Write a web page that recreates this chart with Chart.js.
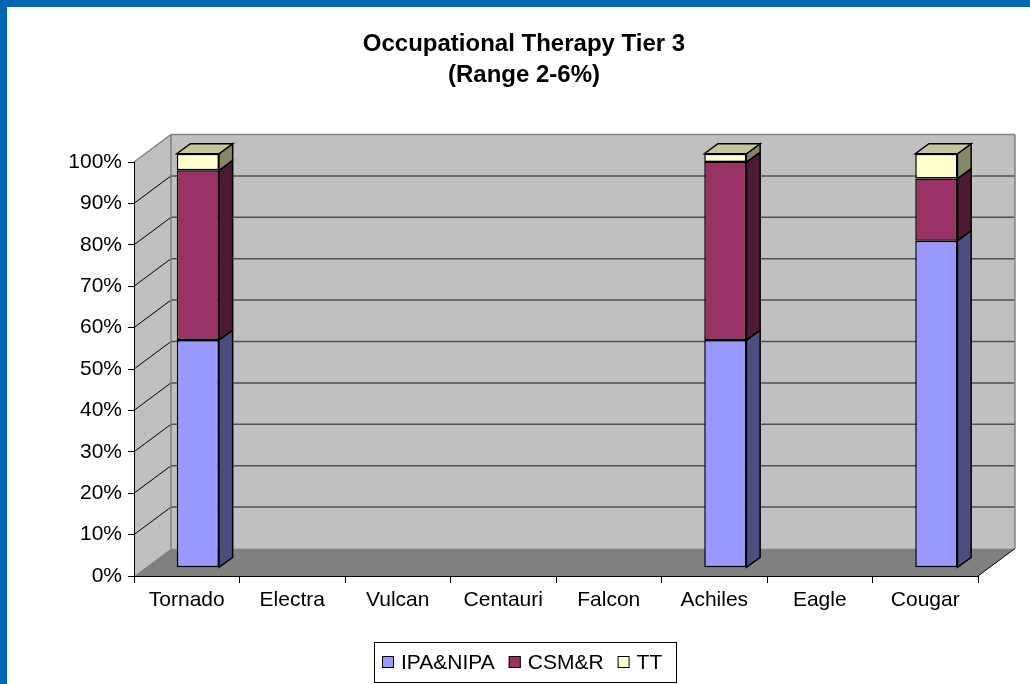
<!DOCTYPE html>
<html>
<head>
<meta charset="utf-8">
<script src="https://cdn.jsdelivr.net/npm/chart.js@4.4.1/dist/chart.umd.min.js"></script>
<style>
html,body{margin:0;padding:0;background:#fff;overflow:hidden}
#wrap{width:1030px;height:684px;position:relative}
</style>
</head>
<body>
<div id="wrap"><canvas id="c" width="1030" height="684"></canvas></div>
<script>
// ---- data ----
const categories = ['Tornado', 'Electra', 'Vulcan', 'Centauri', 'Falcon', 'Achiles', 'Eagle', 'Cougar'];
const ipaValues = [55, null, null, null, null, 55, null, 79];
const csmValues = [41, null, null, null, null, 43, null, 15];
const ttValues  = [4,  null, null, null, null, 2,  null, 6];
const seriesNames = ['IPA&NIPA', 'CSM&R', 'TT'];
const yTickValues = [0, 10, 20, 30, 40, 50, 60, 70, 80, 90, 100];
const titleLines = ['Occupational Therapy Tier 3', '(Range 2-6%)'];

// ---- style ----
const FONT = '"Liberation Sans", Arial, sans-serif';
const DEPTH_X = 37, DEPTH_Y = -27.5;        // back wall offset
const BAR_SHIFT = 0.3;                      // bar front plane position in depth
const BAR_DX = 13.7, BAR_DY = -10;          // bar depth

function poly(ctx, pts, fill, stroke, lw) {
  ctx.beginPath();
  ctx.moveTo(pts[0][0], pts[0][1]);
  for (let k = 1; k < pts.length; k++) ctx.lineTo(pts[k][0], pts[k][1]);
  ctx.closePath();
  if (fill) { ctx.fillStyle = fill; ctx.fill(); }
  if (stroke) { ctx.strokeStyle = stroke; ctx.lineWidth = lw || 1; ctx.stroke(); }
}
function line(ctx, x1, y1, x2, y2, color, lw) {
  ctx.beginPath(); ctx.moveTo(x1, y1); ctx.lineTo(x2, y2);
  ctx.strokeStyle = color; ctx.lineWidth = lw; ctx.stroke();
}

const excel3d = {
  id: 'excel3d',
  beforeDraw(chart) {
    const ctx = chart.ctx;
    const {left: L, right: R, top: T, bottom: B} = chart.chartArea;
    const ys = chart.scales.y;
    ctx.save();
    ctx.fillStyle = '#ffffff';
    ctx.fillRect(0, 0, chart.width, chart.height);
    ctx.fillStyle = '#0066B3';
    ctx.fillRect(0, 0, chart.width, 7);
    ctx.fillRect(0, 0, 7, chart.height);

    // walls
    poly(ctx, [[L, T], [L + DEPTH_X, T + DEPTH_Y], [L + DEPTH_X, B + DEPTH_Y], [L, B]], '#C0C0C0');
    ctx.fillStyle = '#C0C0C0';
    ctx.fillRect(L + DEPTH_X, T + DEPTH_Y, R - L, B - T);
    poly(ctx, [[L, B], [L + DEPTH_X, B + DEPTH_Y], [R + DEPTH_X, B + DEPTH_Y], [R, B]], '#808080');

    // gridlines
    yTickValues.forEach(v => {
      if (v === 0 || v === 100) return;
      const py = ys.getPixelForValue(v);
      line(ctx, L + DEPTH_X, py + DEPTH_Y, R + DEPTH_X, py + DEPTH_Y, '#505050', 1.5);
      line(ctx, L, py, L + DEPTH_X, py + DEPTH_Y, '#000000', 1);
    });
    // wall edges
    line(ctx, L, T, L + DEPTH_X, T + DEPTH_Y, '#808080', 1.5);
    line(ctx, L + DEPTH_X, T + DEPTH_Y, R + DEPTH_X, T + DEPTH_Y, '#808080', 1.5);
    line(ctx, L + DEPTH_X, T + DEPTH_Y, L + DEPTH_X, B + DEPTH_Y, '#808080', 1.5);
    line(ctx, R + DEPTH_X, T + DEPTH_Y, R + DEPTH_X, B + DEPTH_Y, '#808080', 1.5);
    line(ctx, R, B, R + DEPTH_X, B + DEPTH_Y, '#000000', 1);
    ctx.restore();
  },
  beforeDatasetsDraw(chart) {
    chart.ctx.save();
    chart.ctx.translate(DEPTH_X * BAR_SHIFT, DEPTH_Y * BAR_SHIFT);
  },
  afterDatasetsDraw(chart) {
    const ctx = chart.ctx;
    const dsets = chart.data.datasets;
    dsets.forEach((ds, i) => {
      const meta = chart.getDatasetMeta(i);
      meta.data.forEach((el, j) => {
        const v = ds.data[j];
        if (v == null || v === 0) return;
        const p = el.getProps(['x', 'y', 'base', 'width'], true);
        const l = p.x - p.width / 2, r = p.x + p.width / 2;
        const t = Math.min(p.y, p.base), b = Math.max(p.y, p.base);
        poly(ctx, [[r, t], [r + BAR_DX, t + BAR_DY], [r + BAR_DX, b + BAR_DY], [r, b]], ds.sideColor, '#000', 1.5);
        let isTop = true;
        for (let k = i + 1; k < dsets.length; k++) if (dsets[k].data[j]) isTop = false;
        if (isTop) poly(ctx, [[l, t], [l + BAR_DX, t + BAR_DY], [r + BAR_DX, t + BAR_DY], [r, t]], ds.topColor, '#000', 1.5);
      });
    });
    ctx.restore();
  },
  afterDraw(chart) {
    const ctx = chart.ctx;
    ctx.save();
    // title
    ctx.fillStyle = '#000';
    ctx.font = 'bold 24px ' + FONT;
    ctx.textAlign = 'center';
    ctx.textBaseline = 'middle';
    ctx.fillText(titleLines[0], 524, 44);
    ctx.fillText(titleLines[1], 524, 75);

    // legend
    const lx = 374, ly = 642, lw = 302, lh = 40;
    ctx.fillStyle = '#fff';
    ctx.fillRect(lx, ly, lw, lh);
    ctx.strokeStyle = '#000'; ctx.lineWidth = 1;
    ctx.strokeRect(lx + 0.5, ly + 0.5, lw, lh);
    ctx.font = '21px ' + FONT;
    ctx.textAlign = 'left';
    ctx.textBaseline = 'middle';
    let x = 382;
    chart.data.datasets.forEach(ds => {
      ctx.fillStyle = ds.backgroundColor;
      ctx.fillRect(x, 656, 12, 12);
      ctx.strokeStyle = '#000'; ctx.lineWidth = 1;
      ctx.strokeRect(x + 0.5, 656.5, 11, 11);
      ctx.fillStyle = '#000';
      ctx.fillText(ds.label, x + 19, 663);
      x += 19 + ctx.measureText(ds.label).width + 14;
    });
    ctx.restore();
  }
};

new Chart(document.getElementById('c'), {
  type: 'bar',
  data: {
    labels: categories,
    datasets: [
      { label: seriesNames[0], data: ipaValues, backgroundColor: '#9999FF', sideColor: '#4D4D80', topColor: '#B8B8E6' },
      { label: seriesNames[1], data: csmValues, backgroundColor: '#993366', sideColor: '#4D1A33', topColor: '#7A2952' },
      { label: seriesNames[2], data: ttValues,  backgroundColor: '#FFFFCC', sideColor: '#888868', topColor: '#C6C69E' }
    ].map(d => Object.assign(d, {
      borderColor: '#000', borderWidth: 1.5, borderSkipped: false,
      categoryPercentage: 1, barPercentage: 0.4, clip: false
    }))
  },
  options: {
    responsive: false,
    devicePixelRatio: 1,
    animation: false,
    events: [],
    layout: { padding: { top: 162, left: 0, right: 52, bottom: 58 } },
    plugins: { legend: { display: false }, title: { display: false }, tooltip: { enabled: false } },
    scales: {
      x: {
        stacked: true,
        offset: true,
        grid: { offset: true, drawOnChartArea: false, drawTicks: true, tickLength: 7, color: '#000' },
        border: { display: true, color: '#000', width: 1 },
        ticks: { font: { size: 21, family: FONT }, color: '#000', padding: 5, maxRotation: 0, autoSkip: false },
        afterFit(s) { s.height = 50; }
      },
      y: {
        stacked: true,
        min: 0, max: 100,
        afterBuildTicks(s) { s.ticks = yTickValues.map(v => ({ value: v })); },
        grid: { drawOnChartArea: false, drawTicks: true, tickLength: 6, color: '#000' },
        border: { display: true, color: '#000', width: 1 },
        ticks: { font: { size: 21, family: FONT }, color: '#000', padding: 6, callback: v => v + '%' },
        afterFit(s) { s.width = 134; }
      }
    }
  },
  plugins: [excel3d]
});
</script>
</body>
</html>
